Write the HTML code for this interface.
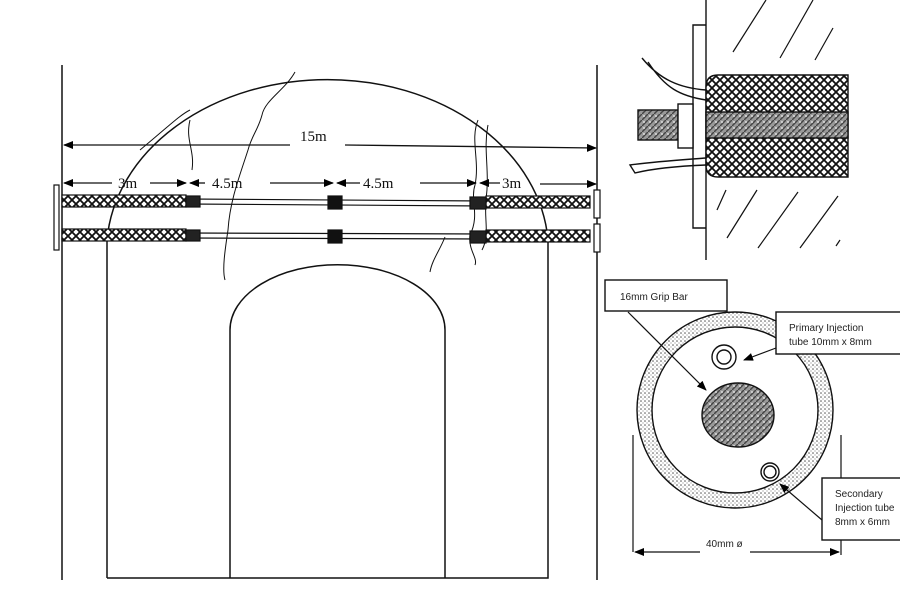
<!DOCTYPE html>
<html><head><style>body{margin:0;background:#fff}svg{display:block}</style></head><body>
<svg width="900" height="596" viewBox="0 0 900 596" xmlns="http://www.w3.org/2000/svg" font-family="Liberation Serif, serif">
<defs>
<pattern id="hx" width="8" height="8" patternUnits="userSpaceOnUse"><rect width="8" height="8" fill="#fff"/><path d="M0 0L8 8M8 0L0 8" stroke="#111" stroke-width="1.8"/></pattern>
<pattern id="dots" width="4" height="4" patternUnits="userSpaceOnUse"><rect width="4" height="4" fill="#fff"/><circle cx="1" cy="1" r="0.8" fill="#555"/><circle cx="3" cy="3" r="0.6" fill="#888"/></pattern>
<pattern id="gr" width="6" height="6" patternUnits="userSpaceOnUse"><rect width="6" height="6" fill="#999"/><path d="M0 6L6 0" stroke="#444" stroke-width="1.5"/><circle cx="2" cy="2" r="1" fill="#ddd"/></pattern>
<marker id="a" markerWidth="10" markerHeight="8" refX="9" refY="4" orient="auto-start-reverse" markerUnits="userSpaceOnUse"><path d="M0 0L10 4L0 8z" fill="#000"/></marker>
</defs>
<g fill="none" stroke="#111" stroke-width="1.5">
<line x1="62" y1="65" x2="62" y2="580"/><line x1="597" y1="65" x2="597" y2="580"/>
<path d="M107 578V240A221 172 0 0 1 548 240V578H107"/>
<path d="M230 578V330A107 65 0 0 1 445 330V578"/>
<path d="M295 72C285 90 265 100 262 115C258 130 252 135 248 150C240 175 230 200 228 230C225 250 222 270 225 280" stroke-width="1"/>
<path d="M190 120C185 140 195 150 192 170M140 150C170 125 180 115 190 110" stroke-width="1"/>
<path d="M478 120C470 140 480 160 475 185C470 200 480 215 470 235C468 250 478 258 475 265M488 125C483 150 490 170 486 200C484 220 490 235 482 250" stroke-width="1"/>
<path d="M445 237C440 250 432 260 430 272" stroke-width="1"/>
</g>
<g stroke="#111" stroke-width="1.3" fill="none">
<line x1="64" y1="145" x2="290" y2="145" marker-start="url(#a)"/><line x1="345" y1="145" x2="596" y2="148" marker-end="url(#a)"/>
<line x1="64" y1="183" x2="112" y2="183" marker-start="url(#a)"/><line x1="150" y1="183" x2="186" y2="183" marker-end="url(#a)"/>
<line x1="190" y1="183" x2="205" y2="183" marker-start="url(#a)"/><line x1="270" y1="183" x2="333" y2="183" marker-end="url(#a)"/>
<line x1="337" y1="183" x2="360" y2="183" marker-start="url(#a)"/><line x1="420" y1="183" x2="476" y2="183" marker-end="url(#a)"/>
<line x1="480" y1="183" x2="500" y2="183" marker-start="url(#a)"/><line x1="540" y1="184" x2="596" y2="184" marker-end="url(#a)"/>
</g>
<g font-size="15" fill="#111"><text x="300" y="141">15m</text><text x="118" y="188">3m</text><text x="212" y="188">4.5m</text><text x="363" y="188">4.5m</text><text x="502" y="188">3m</text></g>
<g stroke="#111" stroke-width="1.2">
<rect x="62" y="195" width="124" height="12" fill="url(#hx)"/><rect x="486" y="196" width="104" height="12" fill="url(#hx)"/>
<rect x="62" y="229" width="124" height="12" fill="url(#hx)"/><rect x="486" y="230" width="104" height="12" fill="url(#hx)"/>
<line x1="186" y1="199" x2="486" y2="201" fill="none"/><line x1="186" y1="204" x2="486" y2="206" fill="none"/>
<line x1="186" y1="233" x2="486" y2="234" fill="none"/><line x1="186" y1="238" x2="486" y2="239" fill="none"/>
<rect x="186" y="196" width="14" height="11" fill="#222"/><rect x="328" y="196" width="14" height="13" fill="#111"/><rect x="470" y="197" width="16" height="12" fill="#222"/>
<rect x="186" y="230" width="14" height="11" fill="#222"/><rect x="328" y="230" width="14" height="13" fill="#111"/><rect x="470" y="231" width="16" height="12" fill="#222"/>
<rect x="54" y="185" width="5" height="65" fill="#fff"/><rect x="594" y="190" width="6" height="28" fill="#fff"/><rect x="594" y="224" width="6" height="28" fill="#fff"/>
</g>
<g stroke="#111" stroke-width="1.4" fill="none">
<line x1="706" y1="0" x2="706" y2="260"/>
<path d="M706 25H693V228H706"/>
<path d="M718 75H848V177H718Q706 177 706 165V87Q706 75 718 75Z" fill="url(#hx)"/>
<rect x="706" y="112" width="142" height="26" fill="url(#gr)"/>
<rect x="638" y="110" width="40" height="30" fill="url(#gr)"/>
<rect x="678" y="104" width="15" height="44" fill="#fff"/>
<path d="M642 58C660 80 680 88 706 90M648 62C665 88 680 96 706 100" />
<path d="M706 158C680 160 650 162 630 165L635 173C655 168 680 166 706 165"/>
<g stroke-width="1.2"><line x1="733" y1="52" x2="766" y2="0"/><line x1="780" y1="58" x2="813" y2="0"/><line x1="815" y1="60" x2="833" y2="28"/><line x1="717" y1="210" x2="726" y2="190"/><line x1="727" y1="238" x2="757" y2="190"/><line x1="758" y1="248" x2="798" y2="192"/><line x1="800" y1="248" x2="838" y2="196"/><line x1="836" y1="246" x2="840" y2="240"/></g>
</g>
<g stroke="#111" stroke-width="1.4">
<circle cx="735" cy="410" r="98" fill="url(#dots)"/>
<circle cx="735" cy="410" r="83" fill="#fff"/>
<ellipse cx="738" cy="415" rx="36" ry="32" fill="url(#gr)"/>
<circle cx="724" cy="357" r="12" fill="#fff"/><circle cx="724" cy="357" r="7" fill="#fff"/>
<circle cx="770" cy="472" r="9" fill="#fff"/><circle cx="770" cy="472" r="6" fill="#fff"/>
<g fill="none" stroke-width="1.2">
<line x1="628" y1="312" x2="706" y2="390" marker-end="url(#a)"/>
<line x1="776" y1="348" x2="744" y2="360" marker-end="url(#a)"/>
<line x1="822" y1="520" x2="780" y2="484" marker-end="url(#a)"/>
<line x1="633" y1="435" x2="633" y2="552"/><line x1="841" y1="435" x2="841" y2="555"/>
<line x1="635" y1="552" x2="700" y2="552" marker-start="url(#a)"/><line x1="750" y1="552" x2="839" y2="552" marker-end="url(#a)"/>
</g>
<rect x="605" y="280" width="122" height="31" fill="#fff"/>
<rect x="776" y="312" width="130" height="42" fill="#fff"/>
<rect x="822" y="478" width="90" height="62" fill="#fff"/>
</g>
<g font-family="Liberation Sans, sans-serif" font-size="10" fill="#222">
<text x="620" y="300">16mm Grip Bar</text>
<text x="789" y="331">Primary Injection</text><text x="789" y="345">tube 10mm x 8mm</text>
<text x="835" y="497">Secondary</text><text x="835" y="511">Injection tube</text><text x="835" y="525">8mm x 6mm</text>
<text x="706" y="547">40mm ø</text>
</g>
</svg>
</body></html>
